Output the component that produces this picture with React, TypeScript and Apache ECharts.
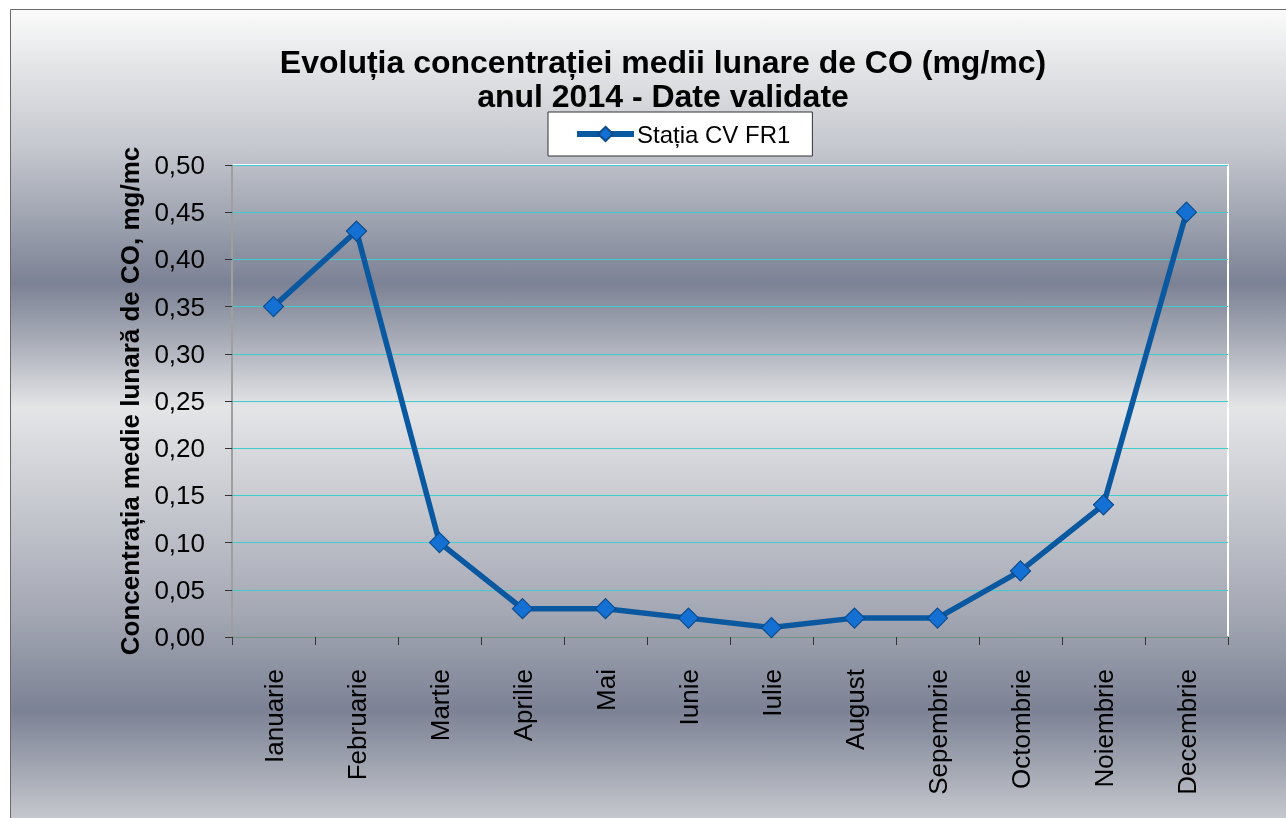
import React, { useEffect, useRef } from "react";
import * as echarts from "echarts";

const months = [
  "Ianuarie", "Februarie", "Martie", "Aprilie", "Mai", "Iunie",
  "Iulie", "August", "Sepembrie", "Octombrie", "Noiembrie", "Decembrie",
];
const values = [0.35, 0.43, 0.10, 0.03, 0.03, 0.02, 0.01, 0.02, 0.02, 0.07, 0.14, 0.45];
const seriesName = "Stația CV FR1";
const titleText = "Evoluția concentrației medii lunare de CO (mg/mc)\nanul 2014 - Date validate";
const yAxisName = "Concentrația medie lunară de CO, mg/mc";

const FONT = "'Liberation Sans', Arial, sans-serif";

export default function App() {
  const ref = useRef<HTMLDivElement>(null);
  useEffect(() => {
    if (!ref.current) return;
    const chart = echarts.init(ref.current, undefined, { renderer: "svg" });
    chart.setOption({
      animation: false,
      textStyle: { fontFamily: FONT },
      graphic: [
        {
          type: "rect",
          z: -10,
          silent: true,
          shape: { x: 10.5, y: 9.5, width: 1300, height: 830 },
          style: {
            stroke: "#6a6a6a",
            lineWidth: 1,
            fill: {
              type: "linear", x: 0, y: 0, x2: 0, y2: 1,
              colorStops: [
                { offset: 0.0, color: "#fbfbfb" },
                { offset: 0.06, color: "#e6e7e9" },
                { offset: 0.17, color: "#c3c6cd" },
                { offset: 0.33, color: "#7c8295" },
                { offset: 0.40, color: "#a9adb8" },
                { offset: 0.48, color: "#e4e5e7" },
                { offset: 0.60, color: "#c6c8cf" },
                { offset: 0.73, color: "#a3a7b3" },
                { offset: 0.845, color: "#7c8295" },
                { offset: 0.92, color: "#a6aab5" },
                { offset: 0.98, color: "#c8cad0" },
                { offset: 1.0, color: "#cccdd2" },
              ],
            },
          },
        },
      ],
      title: {
        text: titleText,
        left: 658,
        top: 40,
        textAlign: "center",
        textStyle: {
          fontFamily: FONT,
          fontSize: 32,
          fontWeight: "bold",
          color: "#000",
          lineHeight: 34,
        },
      },
      legend: {
        left: 548,
        top: 112,
        data: [seriesName],
        backgroundColor: "#ffffff",
        borderColor: "#333333",
        borderWidth: 1,
        borderRadius: 0,
        padding: [10, 22, 10, 26],
        itemWidth: 57,
        itemHeight: 18,
        itemGap: 4,
        lineStyle: { width: 6, color: "#0a58a0" },
        textStyle: { fontFamily: FONT, fontSize: 24, color: "#000", padding: [0, 0, 0, -2] },
      },
      grid: {
        left: 232,
        right: 58,
        top: 165,
        bottom: 181,
        show: true,
        backgroundColor: "transparent",
        borderColor: "#ffffff",
        borderWidth: 2,
      },
      xAxis: {
        type: "category",
        data: months,
        boundaryGap: true,
        axisLine: { show: true, lineStyle: { color: "#7f7f7f", width: 1.5 } },
        axisTick: { show: true, length: 8, lineStyle: { color: "#333" } },
        axisLabel: {
          rotate: 90,
          margin: 32,
          fontFamily: FONT,
          fontSize: 26,
          color: "#000",
          interval: 0,
        },
        splitLine: { show: false },
      },
      yAxis: {
        type: "value",
        min: 0,
        max: 0.5,
        interval: 0.05,
        name: yAxisName,
        nameLocation: "middle",
        nameGap: 87,
        nameRotate: 90,
        nameTextStyle: {
          fontFamily: FONT,
          fontSize: 26,
          fontWeight: "bold",
          color: "#000",
        },
        axisLine: { show: true, lineStyle: { color: "#7f7f7f", width: 1.5 } },
        axisTick: { show: true, length: 7, lineStyle: { color: "#333" } },
        axisLabel: {
          margin: 27,
          fontFamily: FONT,
          fontSize: 26,
          color: "#000",
          formatter: (v: number) => v.toFixed(2).replace(".", ","),
        },
        splitLine: { show: true, lineStyle: { color: "#3ecccc", width: 1 } },
      },
      series: [
        {
          name: seriesName,
          type: "line",
          data: values,
          symbol: "diamond",
          symbolSize: 20,
          lineStyle: { color: "#0a58a0", width: 5.5 },
          itemStyle: { color: "#1470d2", borderColor: "#0a4c8c", borderWidth: 1.2 },
          z: 3,
        },
      ],
    });
    return () => chart.dispose();
  }, []);
  return (
    <div
      ref={ref}
      style={{ position: "fixed", left: 0, top: 0, width: 1286, height: 818 }}
    />
  );
}
